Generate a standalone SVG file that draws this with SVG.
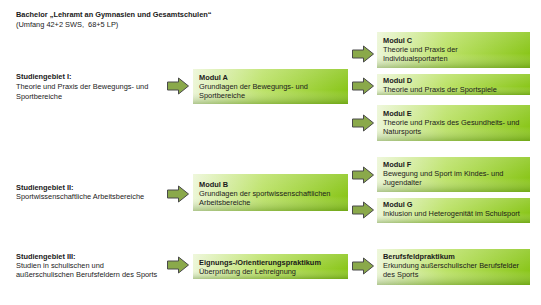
<svg xmlns="http://www.w3.org/2000/svg" width="541" height="305" viewBox="0 0 541 305">
<style>
text{font-family:"Liberation Sans",Arial,sans-serif;font-size:7.4px;fill:#1a1a1a}
.b{font-weight:bold}
.pre{white-space:pre}
.arrow{fill:#8aa94a;stroke:#4a4a4a;stroke-width:1}
.box{fill:url(#g)}
.shade{fill:url(#s)}
</style>
<defs>
<linearGradient id="g" x1="0" y1="0" x2="1" y2="0">
<stop offset="0" stop-color="#ecf6d6"/>
<stop offset="0.45" stop-color="#bce268"/>
<stop offset="1" stop-color="#8ac61a"/>
</linearGradient>
<linearGradient id="s" x1="0" y1="0" x2="0" y2="1">
<stop offset="0" stop-color="#ffffff" stop-opacity="0.15"/>
<stop offset="0.6" stop-color="#ffffff" stop-opacity="0"/>
<stop offset="1" stop-color="#3d6d0a" stop-opacity="0.35"/>
</linearGradient>
<path id="arr" d="M0,-4 H11 V-8 L21,0 L11,8 V4 H0 Z"/>
</defs>

<g id="title">
<text class="b" x="16" y="17">Bachelor „Lehramt an Gymnasien und Gesamtschulen“</text>
<text class="pre" x="16" y="27">(Umfang 42+2 SWS,  68+5 LP)</text>
</g>

<g id="sg1">
<text class="b" x="16" y="79">Studiengebiet I:</text>
<text x="16" y="89">Theorie und Praxis der Bewegungs- und</text>
<text x="16" y="99">Sportbereiche</text>
</g>
<g id="sg2">
<text class="b" x="16" y="190">Studiengebiet II:</text>
<text x="16" y="199">Sportwissenschaftliche Arbeitsbereiche</text>
</g>
<g id="sg3">
<text class="b" x="16" y="259">Studiengebiet III:</text>
<text x="16" y="268">Studien in schulischen und</text>
<text x="16" y="277">außerschulischen Berufsfeldern des Sports</text>
</g>

<g id="connectors">
<use href="#arr" class="arrow" x="167.5" y="86"/>
<use href="#arr" class="arrow" x="167.5" y="194"/>
<use href="#arr" class="arrow" x="167.5" y="265"/>
<use href="#arr" class="arrow" x="352.5" y="54"/>
<use href="#arr" class="arrow" x="352.5" y="86"/>
<use href="#arr" class="arrow" x="352.5" y="123"/>
<use href="#arr" class="arrow" x="352.5" y="175"/>
<use href="#arr" class="arrow" x="352.5" y="210"/>
<use href="#arr" class="arrow" x="352.5" y="266"/>
</g>

<g id="modulA">
<rect class="box" x="193" y="69" width="155" height="35"/><rect class="shade" x="193" y="69" width="155" height="35"/>
<text class="b" x="199" y="80">Modul A</text>
<text x="199" y="89">Grundlagen der Bewegungs- und</text>
<text x="199" y="98">Sportbereiche</text>
</g>
<g id="modulB">
<rect class="box" x="193" y="174" width="155" height="37"/><rect class="shade" x="193" y="174" width="155" height="37"/>
<text class="b" x="199" y="187">Modul B</text>
<text x="199" y="196">Grundlagen der sportwissenschaftlichen</text>
<text x="199" y="205">Arbeitsbereiche</text>
</g>
<g id="eignung">
<rect class="box" x="193" y="254" width="155" height="25"/><rect class="shade" x="193" y="254" width="155" height="25"/>
<text class="b" x="199" y="265">Eignungs-/Orientierungspraktikum</text>
<text x="199" y="274">Überprüfung der Lehreignung</text>
</g>
<g id="modulC">
<rect class="box" x="377" y="32" width="153" height="36"/><rect class="shade" x="377" y="32" width="153" height="36"/>
<text class="b" x="383" y="43">Modul C</text>
<text x="383" y="52">Theorie und Praxis der</text>
<text x="383" y="61">Individualsportarten</text>
</g>
<g id="modulD">
<rect class="box" x="377" y="74" width="153" height="21"/><rect class="shade" x="377" y="74" width="153" height="21"/>
<text class="b" x="383" y="83">Modul D</text>
<text x="383" y="92">Theorie und Praxis der Sportspiele</text>
</g>
<g id="modulE">
<rect class="box" x="377" y="105" width="153" height="36"/><rect class="shade" x="377" y="105" width="153" height="36"/>
<text class="b" x="383" y="116">Modul E</text>
<text x="383" y="125">Theorie und Praxis des Gesundheits- und</text>
<text x="383" y="134">Natursports</text>
</g>
<g id="modulF">
<rect class="box" x="377" y="157" width="153" height="35"/><rect class="shade" x="377" y="157" width="153" height="35"/>
<text class="b" x="383" y="167">Modul F</text>
<text x="383" y="176">Bewegung und Sport im Kindes- und</text>
<text x="383" y="185">Jugendalter</text>
</g>
<g id="modulG">
<rect class="box" x="377" y="198" width="153" height="25"/><rect class="shade" x="377" y="198" width="153" height="25"/>
<text class="b" x="383" y="207">Modul G</text>
<text x="383" y="216">Inklusion und Heterogenität im Schulsport</text>
</g>
<g id="berufsfeld">
<rect class="box" x="377" y="249" width="153" height="36"/><rect class="shade" x="377" y="249" width="153" height="36"/>
<text class="b" x="383" y="259">Berufsfeldpraktikum</text>
<text x="383" y="268">Erkundung außerschulischer Berufsfelder</text>
<text x="383" y="277">des Sports</text>
</g>
</svg>
